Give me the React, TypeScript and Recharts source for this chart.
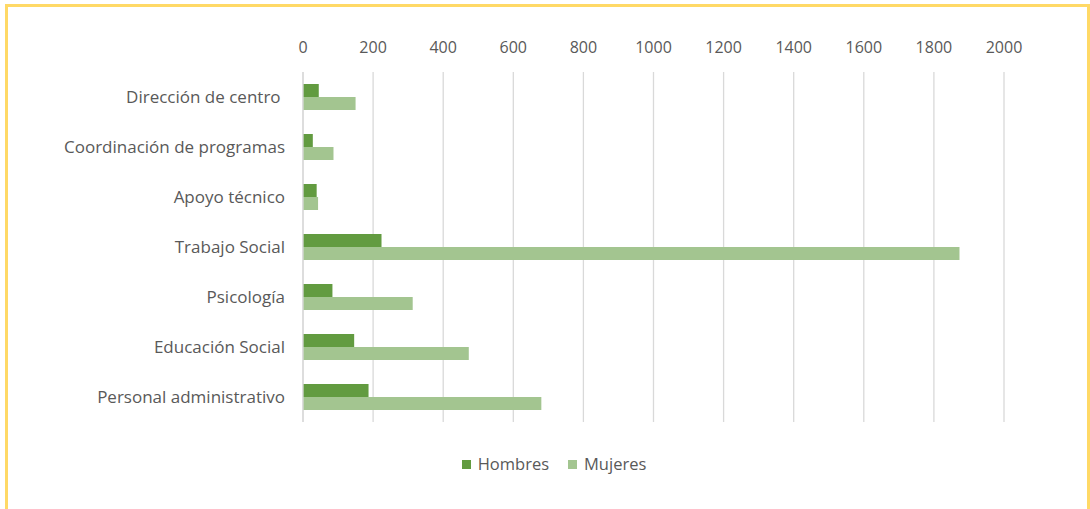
import React from 'react';
import { BarChart, Bar, XAxis, YAxis, CartesianGrid, Legend } from 'recharts';

const categories = [
  'Dirección de centro\u00A0',
  'Coordinación de programas',
  'Apoyo técnico',
  'Trabajo Social',
  'Psicología',
  'Educación Social',
  'Personal administrativo',
];
const hombres = [45, 28, 39, 224, 84, 146, 187];
const mujeres = [150, 87, 43, 1873, 313, 473, 680];
const ticks = [0, 200, 400, 600, 800, 1000, 1200, 1400, 1600, 1800, 2000];

const data = categories.map((name, i) => ({ name, Hombres: hombres[i], Mujeres: mujeres[i] }));

const FONT = '"Open Sans", sans-serif';
const TEXT = '#595959';

function renderLegend(props: any) {
  const { payload } = props;
  return (
    <div style={{ display: 'flex', justifyContent: 'center', paddingLeft: 18, fontFamily: FONT, fontSize: 16.5, color: TEXT, lineHeight: '20px' }}>
      {payload.map((entry: any, i: number) => (
        <div key={i} style={{ display: 'flex', alignItems: 'center', marginRight: i === 0 ? 19 : 0 }}>
          <span style={{ width: 9, height: 9, background: entry.color, display: 'inline-block', marginRight: 7 }} />
          <span>{entry.value}</span>
        </div>
      ))}
    </div>
  );
}

export default function App() {
  return (
    <div style={{ position: 'absolute', left: 0, top: 0, width: 1090, height: 509, overflow: 'hidden', background: '#fff' }}>
      <div
        style={{
          position: 'absolute',
          left: 5,
          top: 4,
          width: 1079,
          height: 600,
          border: '3px solid #FFD966',
        }}
      />
      <div style={{ position: 'absolute', left: 0, top: 0 }}>
        <BarChart
          width={1090}
          height={509}
          data={data}
          layout="vertical"
          margin={{ top: 42, right: 86, left: 0, bottom: 67 }}
          barGap={0}
          barSize={13}
        >
          <CartesianGrid horizontal={false} stroke="#d9d9d9" strokeWidth={1.3} />
          <XAxis
            type="number"
            orientation="top"
            domain={[0, 2000]}
            ticks={ticks}
            height={30}
            axisLine={false}
            tickLine={false}
            tickMargin={13}
            tick={{ fill: TEXT, fontSize: 16, fontFamily: FONT }}
            interval={0}
          />
          <YAxis
            type="category"
            dataKey="name"
            width={303}
            axisLine={{ stroke: '#d9d9d9', strokeWidth: 1.3 }}
            tickLine={false}
            tickMargin={12}
            tick={{ fill: TEXT, fontSize: 17, fontFamily: FONT }}
            interval={0}
          />
          <Legend verticalAlign="bottom" content={renderLegend} wrapperStyle={{ left: 0, width: 1090, bottom: 35 }} />
          <Bar dataKey="Hombres" fill="#629B40" isAnimationActive={false} />
          <Bar dataKey="Mujeres" fill="#A3C590" isAnimationActive={false} />
        </BarChart>
      </div>
    </div>
  );
}
